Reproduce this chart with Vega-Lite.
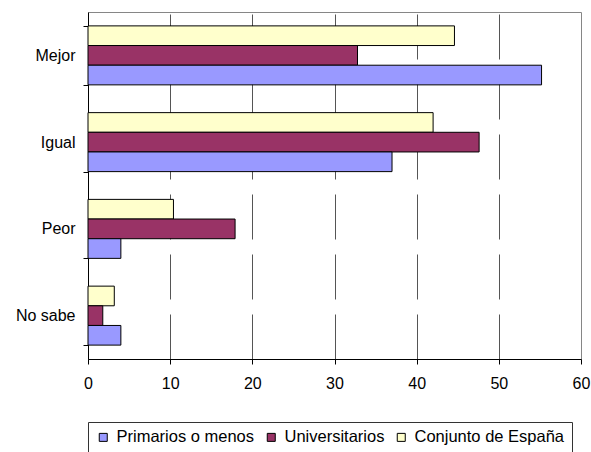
{
  "$schema": "https://vega.github.io/schema/vega-lite/v6.json",
  "width": 493,
  "height": 347,
  "autosize": "none",
  "padding": {"left": 88, "top": 12, "right": 10, "bottom": 93},
  "background": "white",
  "config": {
    "font": "Liberation Sans",
    "view": {"stroke": "#868686", "strokeWidth": 1},
    "axis": {"labelFont": "Liberation Sans", "labelFontSize": 16, "labelColor": "black", "domainColor": "black", "tickColor": "black", "tickSize": 5, "domainWidth": 1, "tickWidth": 1},
    "legend": {"labelFont": "Liberation Sans", "labelFontSize": 16.5, "labelColor": "black"}
  },
  "data": {
    "values": [
      {"cat": "Mejor", "serie": "Conjunto de España", "v": 44.6},
      {"cat": "Mejor", "serie": "Universitarios", "v": 32.8},
      {"cat": "Mejor", "serie": "Primarios o menos", "v": 55.2},
      {"cat": "Igual", "serie": "Conjunto de España", "v": 42.0},
      {"cat": "Igual", "serie": "Universitarios", "v": 47.6},
      {"cat": "Igual", "serie": "Primarios o menos", "v": 37.0},
      {"cat": "Peor", "serie": "Conjunto de España", "v": 10.4},
      {"cat": "Peor", "serie": "Universitarios", "v": 17.9},
      {"cat": "Peor", "serie": "Primarios o menos", "v": 4.0},
      {"cat": "No sabe", "serie": "Conjunto de España", "v": 3.2},
      {"cat": "No sabe", "serie": "Universitarios", "v": 1.8},
      {"cat": "No sabe", "serie": "Primarios o menos", "v": 4.0}
    ]
  },
  "mark": {"type": "bar", "stroke": "black", "strokeWidth": 1},
  "encoding": {
    "y": {
      "field": "cat", "type": "nominal", "sort": ["Mejor", "Igual", "Peor", "No sabe"],
      "scale": {"paddingInner": 0.32, "paddingOuter": 0.16},
      "axis": {"title": null, "tickBand": "extent", "labelPadding": 8, "grid": false}
    },
    "yOffset": {
      "field": "serie", "type": "nominal",
      "sort": ["Conjunto de España", "Universitarios", "Primarios o menos"],
      "scale": {"paddingInner": 0, "paddingOuter": 0}
    },
    "x": {
      "field": "v", "type": "quantitative",
      "scale": {"domain": [0, 60], "nice": false},
      "axis": {
        "title": null, "values": [0, 10, 20, 30, 40, 50, 60], "labelPadding": 11,
        "grid": true, "gridColor": "#555555", "gridDash": [45, 15],
        "gridOpacity": {"condition": {"test": "datum.value <= 0 || datum.value >= 60", "value": 0}, "value": 1},
        "labelFlush": false
      }
    },
    "color": {
      "field": "serie", "type": "nominal",
      "scale": {"domain": ["Primarios o menos", "Universitarios", "Conjunto de España"], "range": ["#9999FF", "#993366", "#FFFFCC"]},
      "legend": {
        "title": null, "orient": "none", "legendX": 0, "legendY": 410, "direction": "horizontal", "columns": 3,
        "symbolType": "square", "symbolSize": 64, "symbolStrokeColor": "black", "symbolStrokeWidth": 1,
        "labelOffset": 5, "columnPadding": 8, "padding": 7,
        "strokeColor": "#333333", "fillColor": "white"
      }
    }
  }
}
